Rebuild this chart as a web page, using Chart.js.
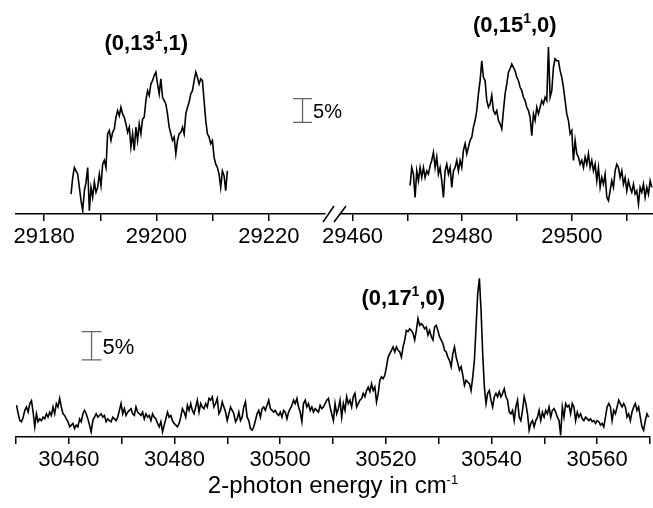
<!DOCTYPE html>
<html>
<head>
<meta charset="utf-8">
<script src="https://cdn.jsdelivr.net/npm/chart.js@4.4.1/dist/chart.umd.min.js"></script>
<style>
  html, body { margin: 0; padding: 0; background: #fff; }
  #wrap { position: relative; width: 653px; height: 508px; overflow: hidden; }
  canvas { position: absolute; }
</style>
</head>
<body>
<div id="wrap">
  <canvas id="topLeft" width="350" height="250" style="left:0;top:0"></canvas>
  <canvas id="topRight" width="343" height="250" style="left:310px;top:0"></canvas>
  <canvas id="bottom" width="653" height="258" style="left:0;top:250px"></canvas>
</div>
<script>
// scans, evenly stepped in cm-1, signal in % (relative)
const band13Start = 29184.8, band13Step = 0.296;
const band13 = [4.2,7.7,9.8,9.1,8.4,5.6,2.8,0.7,4.9,6.7,
  9.8,0.7,5.6,3.5,6.7,4.6,5.6,8.4,6.0,10.5,
  11.3,9.8,16.9,17.6,15.5,17.2,17.9,20.4,21.8,20.7,
  22.5,21.1,20.4,19.0,17.2,18.3,14.1,16.9,13.4,18.3,
  15.5,19.0,16.9,20.0,20.4,23.9,26.0,25.0,27.4,28.1,
  29.2,29.9,27.4,25.3,28.5,24.6,23.9,23.2,21.1,18.3,
  16.9,15.5,16.2,12.7,15.5,16.9,17.2,18.3,16.9,21.1,
  22.5,23.6,25.3,26.0,28.1,29.9,28.8,27.4,28.5,28.1,
  23.9,19.7,16.9,16.2,14.8,15.5,12.0,10.5,9.8,8.4,
  5.6,9.1,8.1,4.9,9.1];

const band15Start = 29470.5, band15Step = 0.304;
const band15 = [6.0,9.8,8.4,3.5,9.1,7.0,9.8,7.7,9.8,7.7,
  9.1,8.4,10.2,11.3,13.0,9.8,12.0,8.4,9.8,7.0,
  3.5,9.1,10.5,8.4,9.8,5.6,9.1,9.8,11.3,9.1,
  11.3,9.8,13.4,14.8,12.7,14.1,15.5,16.2,18.3,19.7,
  21.8,25.3,28.1,32.3,28.8,28.1,23.9,22.5,23.2,25.0,
  21.8,21.1,21.8,19.7,19.0,17.9,21.8,25.3,27.4,29.9,
  30.6,31.6,30.9,30.2,28.8,28.1,26.7,26.0,24.6,23.9,
  22.5,21.8,20.4,16.5,21.1,19.7,22.5,21.1,22.5,23.9,
  23.2,24.6,23.9,35.2,24.6,26.0,30.9,32.7,32.3,32.3,
  30.2,28.8,26.7,23.9,21.1,19.7,16.9,17.6,11.3,15.5,
  12.7,12.0,10.5,11.3,9.8,12.0,10.5,12.7,9.8,11.3,
  9.1,10.5,7.0,9.8,5.6,7.7,6.3,8.4,3.5,2.8,
  4.9,7.0,5.6,9.1,10.5,9.8,7.7,9.1,6.3,7.7,
  4.9,7.0,5.6,4.6,6.3,4.2,4.9,2.1,5.6,4.6,
  6.3,3.5,5.6,4.2,7.0,5.6];

const band17Start = 30450.1, band17Step = 0.314;
const band17 = [5.6,4.1,2.9,2.7,3.5,4.7,5.3,4.4,5.9,6.4,
  4.4,1.8,4.1,2.7,3.2,2.9,3.5,3.2,4.1,3.5,
  4.4,3.8,5.3,4.1,5.9,5.3,6.8,5.3,4.1,3.8,
  3.2,2.7,1.8,2.1,2.4,1.5,2.1,1.8,3.2,2.7,
  4.1,4.7,4.1,3.2,2.1,0.9,2.9,3.5,4.1,3.5,
  3.8,4.1,3.5,3.8,2.7,3.2,2.9,2.7,3.5,3.2,
  2.9,3.5,4.7,5.9,4.1,5.0,3.8,4.4,4.7,5.0,
  4.1,3.8,5.3,4.4,4.1,3.8,4.4,3.2,4.1,3.5,
  3.8,2.9,4.1,3.5,3.2,2.4,1.8,2.7,0.9,2.1,
  3.2,4.4,3.5,3.8,2.9,2.4,2.1,1.8,2.4,3.5,
  5.0,4.4,3.5,5.6,4.7,5.9,4.7,4.1,5.3,6.5,
  4.4,5.9,5.3,5.0,5.9,5.3,6.8,6.5,7.1,5.3,
  5.9,6.8,4.1,4.7,6.2,5.3,4.4,2.9,4.1,5.3,
  4.7,4.1,2.7,3.2,4.4,2.9,3.5,5.3,6.2,3.5,
  2.9,1.5,1.2,1.8,2.9,4.1,4.7,3.5,5.0,5.3,
  4.7,5.6,6.5,5.0,4.7,4.4,4.7,4.1,3.8,4.4,
  3.5,4.7,4.4,3.2,4.4,5.0,5.6,6.5,5.9,6.8,
  5.3,4.4,2.7,5.9,6.5,5.3,5.9,4.7,5.3,4.4,
  5.0,4.7,4.4,5.6,5.0,5.3,5.9,6.5,6.8,
  5.3,4.1,2.9,5.9,4.1,5.0,6.5,3.5,5.9,4.7,
  7.1,5.9,6.5,5.3,7.1,7.7,5.3,5.9,6.5,6.8,
  7.7,7.1,8.2,8.8,8.0,9.4,8.2,8.8,6.2,7.7,
  10.0,10.6,10.3,10.9,12.4,14.1,14.7,15.3,15.9,15.0,
  15.9,15.3,15.0,14.1,15.9,17.1,18.8,18.6,19.1,18.8,
  18.3,17.1,18.8,20.9,19.7,20.0,19.7,19.1,19.4,18.0,
  18.8,17.7,17.1,19.4,19.7,18.8,17.7,17.1,16.5,15.3,
  15.0,14.1,13.5,12.4,14.7,15.9,14.1,13.0,11.8,12.4,
  10.9,9.1,10.0,9.7,9.4,8.2,10.6,13.5,19.4,25.3,
  28.0,22.4,14.7,8.8,5.9,7.7,8.2,6.5,5.3,7.1,
  7.7,7.1,8.0,7.1,7.7,8.5,7.1,6.5,4.4,4.1,
  4.7,2.9,5.3,6.5,3.5,2.9,4.7,7.1,5.9,4.1,
  1.2,2.4,2.9,1.8,2.9,3.5,4.7,2.9,4.4,3.5,
  4.7,4.1,5.3,3.5,4.7,5.0,4.4,3.5,2.9,0.3,
  5.3,3.5,5.9,5.3,5.6,4.1,5.9,5.3,2.9,4.4,
  3.5,4.1,3.2,2.9,3.5,3.2,2.9,3.2,2.7,2.9,
  2.4,2.9,2.7,2.1,2.4,1.8,3.5,5.3,5.9,5.3,
  2.9,4.7,4.1,5.3,6.5,5.9,5.3,5.9,5.3,3.5,
  4.1,2.9,4.4,5.3,5.9,4.7,5.3,3.5,1.8,1.2,
  2.9,4.1,3.5];

// axis ticks and labels
const leftTicks = [29180, 29190, 29200, 29210, 29220];
const leftLabels = [29180, 29200, 29220];
const rightTicks = [29460, 29470, 29480, 29490, 29500, 29510];
const rightLabels = [29460, 29480, 29500];
const bottomTicks = [30450, 30460, 30470, 30480, 30490, 30500, 30510, 30520, 30530, 30540, 30550, 30560, 30570];
const bottomLabels = [30460, 30480, 30500, 30520, 30540, 30560];

// band names: [base, superscript, tail]
const name13 = ['(0,13', '1', ',1)'];
const name15 = ['(0,15', '1', ',0)'];
const name17 = ['(0,17', '1', ',0)'];
const xTitle = ['2-photon energy in cm', '-1', ''];
const barText = '5%';

const FONT = '"Liberation Sans", Arial, Helvetica, sans-serif';

function toPoints(start, step, vals) {
    return vals.map((v, i) => ({ x: start + i * step, y: v }));
}

function drawSup(ctx, cx, baseY, parts, weight, size, supSize, supRise) {
    const mainFont = `${weight} ${size}px ${FONT}`;
    const supFont = `${weight} ${supSize}px ${FONT}`;
    ctx.font = mainFont;
    const w0 = ctx.measureText(parts[0]).width;
    const w2 = ctx.measureText(parts[2]).width;
    ctx.font = supFont;
    const w1 = ctx.measureText(parts[1]).width;
    let xx = cx - (w0 + w1 + w2) / 2;
    ctx.textAlign = 'left';
    ctx.textBaseline = 'alphabetic';
    ctx.fillStyle = '#000';
    ctx.font = mainFont;
    ctx.fillText(parts[0], xx, baseY);
    xx += w0;
    ctx.font = supFont;
    ctx.fillText(parts[1], xx, baseY - supRise);
    xx += w1;
    ctx.font = mainFont;
    ctx.fillText(parts[2], xx, baseY);
}

const notesPlugin = {
    id: 'notes',
    afterDraw(chart, args, o) {
        const { ctx, chartArea } = chart;
        const x = chart.scales.x, y = chart.scales.y;
        ctx.save();
        (o.names || []).forEach(n => {
            const px = x.getPixelForValue(n.x);
            const py = y.getPixelForValue(n.y);
            drawSup(ctx, px, py + 8, n.parts, 'bold', 22, 14, 9);
        });
        if (o.bar) {
            const bx = x.getPixelForValue(o.bar.x);
            const y0 = y.getPixelForValue(o.bar.from);
            const y1 = y.getPixelForValue(o.bar.to);
            ctx.strokeStyle = '#666';
            ctx.lineWidth = 1.3;
            ctx.beginPath();
            ctx.moveTo(bx, y0); ctx.lineTo(bx, y1);
            ctx.moveTo(bx - o.bar.cap, y0); ctx.lineTo(bx + o.bar.cap, y0);
            ctx.moveTo(bx - o.bar.cap, y1); ctx.lineTo(bx + o.bar.cap, y1);
            ctx.stroke();
            ctx.fillStyle = '#000';
            ctx.font = `${o.bar.size}px ${FONT}`;
            ctx.textAlign = 'left';
            ctx.textBaseline = 'middle';
            ctx.fillText(barText, bx + o.bar.cap + 1, (y0 + y1) / 2 + 2);
        }
        if (o.breakMark) {
            const l = chartArea.left, b = chartArea.bottom;
            ctx.strokeStyle = '#000';
            ctx.lineWidth = 1.5;
            ctx.beginPath();
            ctx.moveTo(l - 18, b + 8); ctx.lineTo(l - 7, b - 8);
            ctx.moveTo(l - 7, b + 8); ctx.lineTo(l + 5, b - 8);
            ctx.stroke();
        }
        if (o.title) {
            const cx = (chartArea.left + chartArea.right) / 2;
            drawSup(ctx, cx, chart.height - 15, xTitle, 'normal', 24, 13, 9);
        }
        ctx.restore();
    }
};

function makeChart(id, cfg) {
    const ctx = document.getElementById(id).getContext('2d');
    return new Chart(ctx, {
        type: 'line',
        data: {
            datasets: [{
                data: toPoints(cfg.start, cfg.step, cfg.values),
                borderColor: '#000',
                borderWidth: 1.6,
                pointRadius: 0,
                tension: 0,
                fill: false
            }]
        },
        options: {
            responsive: false,
            animation: false,
            layout: { padding: cfg.padding },
            plugins: {
                legend: { display: false },
                tooltip: { enabled: false },
                notes: cfg.notes
            },
            scales: {
                x: {
                    type: 'linear',
                    min: cfg.xMin,
                    max: cfg.xMax,
                    afterFit: s => { s.height = cfg.axisHeight; },
                    afterBuildTicks: s => { s.ticks = cfg.ticks.map(v => ({ value: v })); },
                    ticks: {
                        autoSkip: false,
                        maxRotation: 0,
                        minRotation: 0,
                        padding: 3,
                        color: '#000',
                        font: { family: FONT, size: 22 },
                        callback: v => cfg.labels.includes(v) ? String(v) : ''
                    },
                    grid: { drawOnChartArea: false, drawTicks: true, tickLength: 7, color: '#000', lineWidth: 1.5 },
                    border: { display: true, color: '#000', width: 1.6 }
                },
                y: { display: false, min: 0, max: cfg.yMax }
            }
        },
        plugins: [notesPlugin]
    });
}

makeChart('topLeft', {
    start: band13Start, step: band13Step, values: band13,
    xMin: 29175, xMax: 29230, yMax: 45.1,
    ticks: leftTicks, labels: leftLabels,
    padding: { left: 16, right: 25, top: 0, bottom: 0 },
    axisHeight: 36,
    notes: {
        names: [{ parts: name13, x: 29198.2, y: 36.3 }],
        bar: { x: 29226.0, from: 19.3, to: 24.3, cap: 9.5, size: 20 }
    }
});

makeChart('topRight', {
    start: band15Start, step: band15Step, values: band15,
    xMin: 29457.9, xMax: 29514.8, yMax: 45.1,
    ticks: rightTicks, labels: rightLabels,
    padding: { left: 31, right: 0, top: 0, bottom: 0 },
    axisHeight: 36,
    notes: {
        names: [{ parts: name15, x: 29489.6, y: 40.1 }],
        breakMark: true
    }
});

makeChart('bottom', {
    start: band17Start, step: band17Step, values: band17,
    xMin: 30450, xMax: 30570, yMax: 33.0,
    ticks: bottomTicks, labels: bottomLabels,
    padding: { left: 16, right: 0, top: 0, bottom: 0 },
    axisHeight: 71,
    notes: {
        names: [{ parts: name17, x: 30523.3, y: 24.7 }],
        bar: { x: 30464.3, from: 13.6, to: 18.6, cap: 10, size: 22 },
        title: true
    }
});
</script>
</body>
</html>
